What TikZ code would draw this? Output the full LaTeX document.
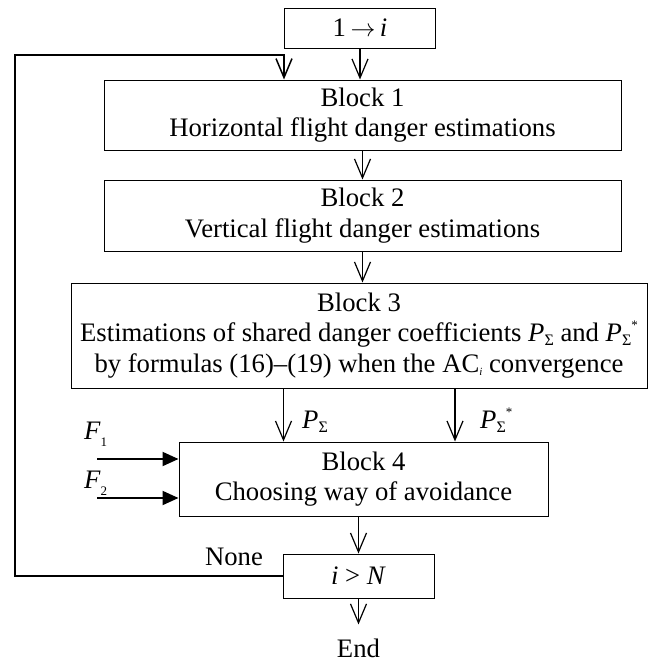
\documentclass[tikz,border=0pt]{standalone}
\usepackage{fontspec}
\setmainfont{Liberation Serif}
\usetikzlibrary{arrows.meta}

\newcommand{\psig}{\textit{P}\raisebox{-4pt}{\fontsize{16}{16}\selectfont Σ}}
\newcommand{\psigst}{\psig\raisebox{12pt}{\fontsize{13}{13}\selectfont *}}
\newcommand{\lowsub}[1]{\raisebox{-7pt}{\fontsize{13}{13}\selectfont #1}}

\begin{document}
\begin{tikzpicture}
  [x = 1pt, y = -1pt, >= {Straight Barb[length=19pt, width=16pt]},
   blockbox/.style = {draw, line width = 1pt, align = center, inner sep = 0pt,
                      font = \fontsize{26.7}{30.5}\selectfont},
   tallbox/.style = {blockbox, execute at begin node = {\rule{0pt}{30pt}}},
   lbl/.style = {inner sep = 0pt, font = \fontsize{26.7}{30.5}\selectfont},
   flow/.style = {->, line width = 1.2pt},
   infeed/.style = {-{Triangle[length=16pt, width=14pt]}, line width = 2pt}]
  \useasboundingbox (0,0) rectangle (649,662);

  % blocks
  \node[blockbox, minimum width = 151pt, minimum height = 40pt] (start) at (360,28)
       {1\,$\rightarrow$\,\textit{i}};
  \node[tallbox, minimum width = 517pt, minimum height = 70pt] (b1) at (362.5,115)
       {Block 1\\Horizontal flight danger estimations};
  \node[tallbox, minimum width = 517pt, minimum height = 71pt] (b2) at (362.5,215.5)
       {Block 2\\Vertical flight danger estimations};
  \node[tallbox, minimum width = 576pt, minimum height = 105pt] (b3) at (359,335.5)
       {Block 3\\Estimations of shared danger coefficients \psig{} and \psigst\\
        by formulas (16)–(19) when the AC\raisebox{-3pt}{\fontsize{11}{11}\selectfont\textit{i}} convergence};
  \node[tallbox, minimum width = 369pt, minimum height = 74pt] (b4) at (363.5,479)
       {Block 4\\Choosing way of avoidance};
  \node[blockbox, minimum width = 151pt, minimum height = 44pt] (check) at (358.5,576)
       {\textit{i} > \textit{N}};
  \node[lbl] (fin) at (358.5,648) {End};
  \node[lbl] (none) at (234,557) {None};

  % main flow
  \draw[flow] (start.south) -- (start.south |- b1.north);
  \draw[flow] (b1.south) -- (b2.north);
  \draw[flow] (b2.south) -- (b2.south |- b3.north);
  \draw[flow] (check.north |- b4.south) -- (check.north);
  \draw[flow] (check.south) -- ([yshift=14pt]fin.north);

  % danger coefficients into block 4
  \coordinate (pin) at ([xshift=-80pt]b4.north);
  \coordinate (pstin) at ([xshift=91.5pt]b4.north);
  \draw[flow] (pin |- b3.south) -- (pin);
  \draw[flow] (pstin |- b3.south) -- (pstin);
  \node[lbl, anchor = base west] (lp) at (302,428) {\psig};
  \node[lbl, anchor = base west] (lpst) at (480,428) {\psigst};

  % external inputs
  \coordinate (f1) at (97,459);
  \coordinate (f2) at (97,498);
  \draw[infeed] (f1) -- (f1 -| b4.west);
  \draw[infeed] (f2) -- (f2 -| b4.west);
  \node[lbl, anchor = base west] (lf1) at (84,439) {\textit{F}\lowsub{1}};
  \node[lbl, anchor = base west] (lf2) at (84,488) {\textit{F}\lowsub{2}};

  % loop back
  \coordinate (loopcorner) at (15,55);
  \draw[flow, line width = 1.5pt] (check.west) -| (loopcorner)
       -- (loopcorner -| start.west) -- (start.west |- b1.north);
\end{tikzpicture}
\end{document}
